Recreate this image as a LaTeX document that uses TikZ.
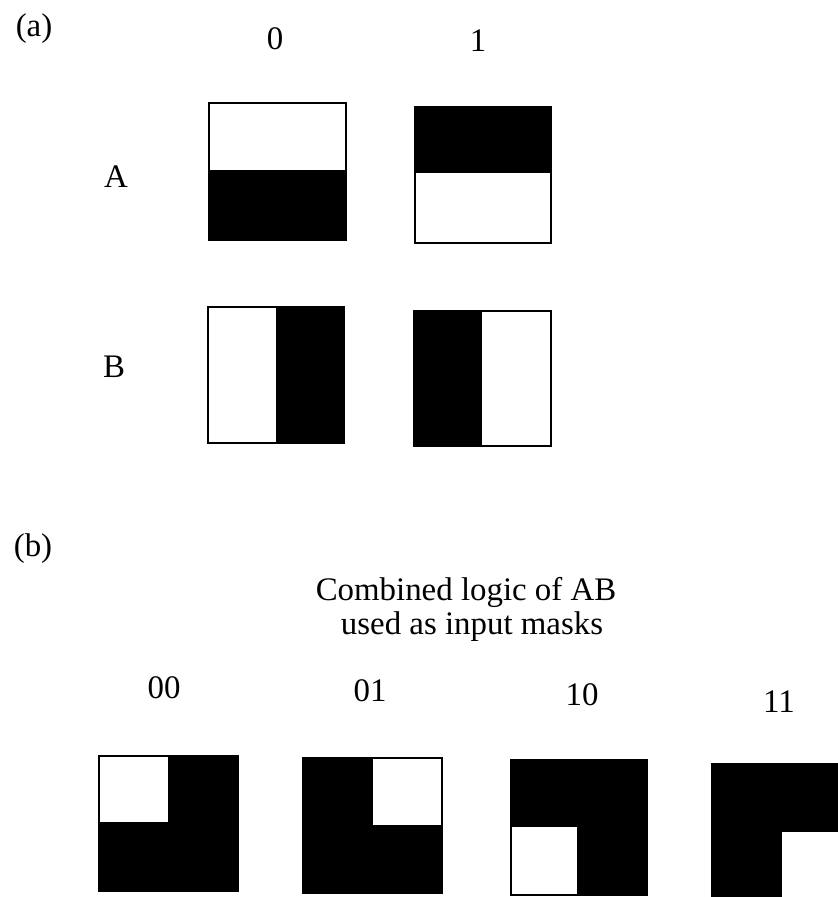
\documentclass[tikz,border=0pt]{standalone}
\usepackage{fontspec}
\setmainfont{Liberation Serif}
\begin{document}
\begin{tikzpicture}[x=1bp,y=-1bp,
  lbl/.style={inner sep=0pt,font=\fontsize{33}{38}\selectfont},
  frame/.style={draw=black,line width=1.4bp},
  ink/.style={fill=black}]
\useasboundingbox[fill=white] (0,0) rectangle (838,897);
\begin{scope}
\clip (0,0) rectangle (838,897);
% labels
\node[lbl] (pa) at (34,29) {(a)};
\node[lbl] (pb) at (33,549) {(b)};
\node[lbl] (c0) at (275,39) {0};
\node[lbl] (c1) at (478,41) {1};
\node[lbl] (rA) at (116,177) {A};
\node[lbl] (rB) at (114,367) {B};
\node[lbl] (t1) at (466,592) {Combined logic of AB};
\node[lbl] (t2) at (472,627) {used as input masks};
\node[lbl] (k00) at (164,688) {00};
\node[lbl] (k01) at (370,691) {01};
\node[lbl] (k10) at (582,695) {10};
\node[lbl] (k11) at (779,702) {11};
% (a) A masks
\fill[ink] (209,170) rectangle (346,240);
\draw[frame] (209,103) rectangle (346,240);
\fill[ink] (415,107) rectangle (551,173);
\draw[frame] (415,107) rectangle (551,243);
% (a) B masks
\fill[ink] (276,307) rectangle (344,443);
\draw[frame] (208,307) rectangle (344,443);
\fill[ink] (414,311) rectangle (482,446);
\draw[frame] (414,311) rectangle (551,446);
% (b) combined masks
\fill[ink] (99,756) rectangle (238,891);
\fill[white] (99,756) rectangle (168,822);
\draw[frame] (99,756) rectangle (238,891);
\fill[ink] (303,758) rectangle (442,893);
\fill[white] (373,758) rectangle (442,825);
\draw[frame] (303,758) rectangle (442,893);
\fill[ink] (511,760) rectangle (647,895);
\fill[white] (511,827) rectangle (577,895);
\draw[frame] (511,760) rectangle (647,895);
\fill[ink] (712,764) rectangle (852,904);
\fill[white] (782,832) rectangle (852,904);
\draw[frame] (712,764) rectangle (852,904);
\end{scope}
\end{tikzpicture}
\end{document}
